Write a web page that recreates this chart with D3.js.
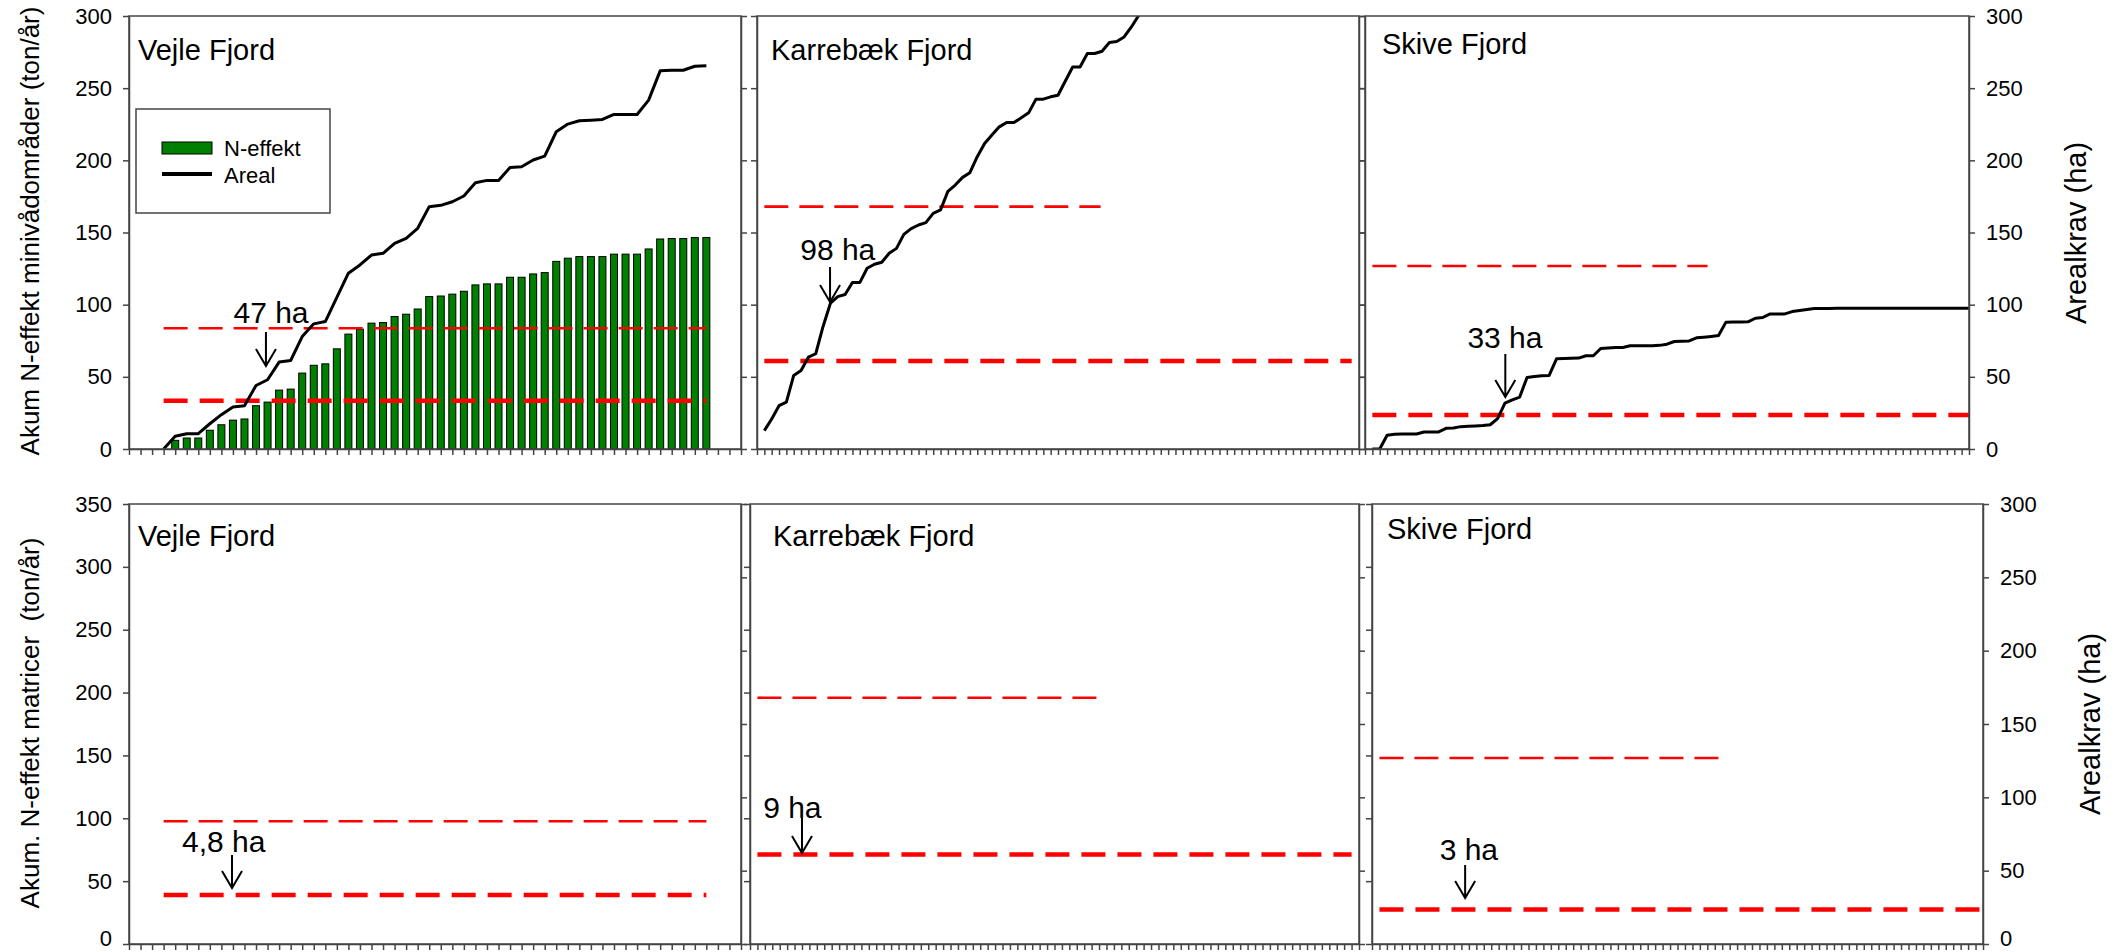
<!DOCTYPE html>
<html lang="da">
  <head>
    <meta charset="UTF-8" />
    <script src="https://d3js.org/d3.v7.min.js"></script>
    <title>Akum N-effekt og arealkrav</title>
    <style>
      body { margin: 0; background: #fff; }
      svg text { font-family: "Liberation Sans", Arial, sans-serif; fill: #000; }
      .axis path, .axis line { stroke: #444; stroke-width: 1.5; }
      .axis text { font-size: 22px; }
      .frame { fill: none; stroke: #444; stroke-width: 1.5; }
      .title { font-size: 29px; }
      .note { font-size: 30px; }
      .ytitle { font-size: 26px; white-space: pre; }
    </style>
  </head>
  <body>
    <script>
      const fjords = ['Vejle Fjord', 'Karrebæk Fjord', 'Skive Fjord']

      // akum. N-effekt (ton/år) for Vejle, first bar at x index 4
      const vejleNeffekt = [6, 7.6, 7.6, 13, 16.8, 20, 20.8, 30, 32.5, 40.8, 41.5, 52.6, 58, 59, 69.4, 79.6,
        83, 87.2, 87.6, 91.8, 93.4, 97, 105.6, 106, 107.3, 109.3, 113.7, 114.4, 114.4, 119, 119, 121.3,
        122.2, 130, 132.2, 133.3, 133.3, 133.3, 135, 135, 135, 138.6, 145.5, 145.8, 145.8, 146.5, 146.5]
      const vejleNStart = 4

      // akum. areal (ha)
      const vejleAreal = [0, 8.8, 10.6, 10.6, 17.5, 23.8, 29.1, 30, 44, 48, 60.2, 61.3, 77.9, 86.7, 88.3, 105,
        121.8, 127.5, 134.4, 135.6, 142.5, 146, 152.9, 167.9, 168.8, 171.3, 175.3, 184.5, 186.1, 186.1,
        195.1, 195.5, 200.2, 202.9, 219.8, 225.1, 227.4, 227.8, 228.3, 231.8, 231.8, 231.8, 241.7, 262,
        262.4, 262.4, 265.2, 265.6]
      const karrebaekAreal = [12.7, 20.8, 30, 32.5, 51, 54.4, 63.6, 66, 84.9, 101, 105.6, 107, 115.3, 115.3,
        125.2, 128, 129.4, 135.6, 139, 148.7, 152.7, 155.2, 156.8, 163.3, 165.6, 178.5, 182.9, 188.2, 191.4,
        202.5, 211.7, 217.5, 223.2, 226.2, 226.2, 229.5, 232.9, 242.4, 242.4, 244, 245.1, 255, 264.7, 264.7,
        274, 274, 275.6, 281.6, 282.3, 285.5, 292.4, 300.5]
      const skiveAreal = [0, 0, 9.5, 10.2, 10.4, 10.4, 10.4, 11.8, 11.8, 11.8,
        14.3, 14.5, 15.5, 15.8, 16, 16.3, 16.8, 21, 31.8, 34.1,
        36, 49.6, 50.2, 50.7, 51, 62.5, 62.7, 62.9, 63, 64.6,
        64.6, 69.6, 70, 70.3, 70.3, 71.5, 71.5, 71.5, 71.5, 71.8,
        72.6, 74.5, 74.7, 74.9, 77, 77.5, 78, 78.6, 87.9, 88,
        88, 88.1, 90.6, 91.1, 93.6, 93.6, 93.6, 95.2, 96, 96.6,
        97.3, 97.3, 97.4, 97.5, 97.5, 97.5, 97.5, 97.5, 97.5, 97.5,
        97.5, 97.5, 97.5, 97.5, 97.5, 97.5, 97.5, 97.5, 97.5, 97.5, 97.5, 97.5]
      const arealSeries = [vejleAreal, karrebaekAreal, skiveAreal]
      const arealStart = [3, 1, 1]
      const xMax = [53, 82, 82]

      // stiplede krav-linjer
      const refStart = [3, 1, 1]
      const refUpper = [83.7, 167.9, 126.8]
      const refUpperEnd = [50, 46.8, 46.5]
      const refLower = [33.4, 61, 23.5]
      const refLowerEnd = [50, 81, 82]

      const topLeftTicks = [0, 50, 100, 150, 200, 250, 300]
      const bottomLeftTicks = [0, 50, 100, 150, 200, 250, 300, 350]
      const rightTicks = [0, 50, 100, 150, 200, 250, 300]

      const noteTopLabel = ['47 ha', '98 ha', '33 ha']
      const noteTopArrowX = [11.86, 9.95, 19.05]
      const noteTopTip = [57.5, 101.8, 36]
      const noteTopTail = [81.1, 126.1, 65.8]
      const noteTopTextX = [12.3, 11, 19]
      const noteTopTextY = [87.3, 131, 70]

      const noteBotLabel = ['4,8 ha', '9 ha', '3 ha']
      const noteBotArrowX = [8.92, 7.0, 12.5]
      const noteBotTip = [38.2, 62, 31.4]
      const noteBotTail = [60.7, 85.9, 53.9]
      const noteBotTextX = [8.2, 5.7, 13]
      const noteBotTextY = [62.7, 85.9, 57.3]

      const svg = d3.select('body').append('svg')
        .attr('width', 2119)
        .attr('height', 952)

      const rows = [
        { top: 16, bottom: 449, leftMax: 300, leftTicks: topLeftTicks,
          xs: [[129, 741], [757, 1359], [1365, 1969]],
          titleX: [138, 771, 1382], titleY: [60, 60, 54],
          notes: [noteTopLabel, noteTopArrowX, noteTopTip, noteTopTail, noteTopTextX, noteTopTextY] },
        { top: 504, bottom: 944, leftMax: 350, leftTicks: bottomLeftTicks,
          xs: [[129, 741], [750, 1359], [1372, 1983]],
          titleX: [138, 773, 1387], titleY: [546, 546, 539],
          notes: [noteBotLabel, noteBotArrowX, noteBotTip, noteBotTail, noteBotTextX, noteBotTextY] }
      ]

      function dropEmptyLabels(sel) {
        sel.selectAll('text').filter(function () { return this.textContent === '' }).remove()
      }

      rows.forEach(function (row, r) {
        // keep the lowest "0" labels inside the picture
        function liftZero(sel) {
          if (r === 1) sel.selectAll('.tick text').filter(d => d === 0).attr('dy', '0.08em')
        }

        row.xs.forEach(function (xr, p) {
          const x = d3.scaleLinear().domain([0, xMax[p]]).range(xr)
          const yL = d3.scaleLinear().domain([0, row.leftMax]).range([row.bottom, row.top])
          const yR = d3.scaleLinear().domain([0, 300]).range([row.bottom, row.top])
          const g = svg.append('g')
          const clipId = 'clip' + r + p

          svg.append('clipPath').attr('id', clipId)
            .append('rect')
            .attr('x', xr[0]).attr('y', row.top)
            .attr('width', xr[1] - xr[0]).attr('height', row.bottom - row.top)

          // bars only in the top Vejle panel
          if (r === 0 && p === 0) {
            g.append('g').selectAll('rect')
              .data(vejleNeffekt)
              .join('rect')
              .attr('x', (d, i) => x(i + vejleNStart) - 3.5)
              .attr('width', 7)
              .attr('y', d => yL(d))
              .attr('height', d => yL(0) - yL(d))
              .attr('fill', '#008000')
              .attr('stroke', '#000')
              .attr('stroke-width', 1)
          }

          g.append('line')
            .attr('x1', x(refStart[p])).attr('x2', x(refUpperEnd[p]))
            .attr('y1', yR(refUpper[p])).attr('y2', yR(refUpper[p]))
            .attr('stroke', '#ff0000').attr('stroke-width', 2.6)
            .attr('stroke-dasharray', '24 11')
          g.append('line')
            .attr('x1', x(refStart[p])).attr('x2', x(refLowerEnd[p]))
            .attr('y1', yR(refLower[p])).attr('y2', yR(refLower[p]))
            .attr('stroke', '#ff0000').attr('stroke-width', 4.5)
            .attr('stroke-dasharray', '24 12')

          if (r === 0) {
            const line = d3.line()
              .x((d, i) => x(i + arealStart[p]))
              .y(d => yR(d))
            g.append('path')
              .datum(arealSeries[p])
              .attr('d', line)
              .attr('clip-path', 'url(#' + clipId + ')')
              .attr('fill', 'none')
              .attr('stroke', '#000')
              .attr('stroke-width', 3)
              .attr('stroke-linejoin', 'round')
          }

          // annotation with arrow
          const n = row.notes
          const ax = x(n[1][p])
          const tip = yR(n[2][p])
          g.append('text')
            .attr('class', 'note')
            .attr('x', x(n[4][p]))
            .attr('y', yR(n[5][p]))
            .attr('text-anchor', 'middle')
            .text(n[0][p])
          g.append('path')
            .attr('d', 'M' + ax + ',' + yR(n[3][p]) + 'V' + tip +
              'M' + (ax - 10) + ',' + (tip - 17) + 'L' + ax + ',' + tip + 'L' + (ax + 10) + ',' + (tip - 17))
            .attr('fill', 'none')
            .attr('stroke', '#000')
            .attr('stroke-width', 2)

          g.append('rect')
            .attr('class', 'frame')
            .attr('x', xr[0]).attr('y', row.top)
            .attr('width', xr[1] - xr[0]).attr('height', row.bottom - row.top)

          g.append('g')
            .attr('class', 'axis')
            .attr('transform', 'translate(' + xr[0] + ',0)')
            .call(d3.axisLeft(yL).tickValues(row.leftTicks).tickSize(6).tickSizeOuter(0)
              .tickPadding(11).tickFormat(p === 0 ? d3.format('d') : ''))
            .call(dropEmptyLabels)
            .call(liftZero)

          g.append('g')
            .attr('class', 'axis')
            .attr('transform', 'translate(' + xr[1] + ',0)')
            .call(d3.axisRight(yR).tickValues(rightTicks).tickSize(6).tickSizeOuter(0)
              .tickPadding(11).tickFormat(p === 2 ? d3.format('d') : ''))
            .call(dropEmptyLabels)
            .call(liftZero)

          g.append('g')
            .attr('class', 'axis')
            .attr('transform', 'translate(0,' + row.bottom + ')')
            .call(d3.axisBottom(x).tickValues(d3.range(0, xMax[p] + 1)).tickSize(6).tickSizeOuter(0)
              .tickFormat(''))
            .call(dropEmptyLabels)

          g.append('text')
            .attr('class', 'title')
            .attr('x', row.titleX[p])
            .attr('y', row.titleY[p])
            .text(fjords[p])
        })
      })

      // legend
      const legend = svg.append('g')
      legend.append('rect')
        .attr('x', 136).attr('y', 109).attr('width', 194).attr('height', 104)
        .attr('fill', '#fff').attr('stroke', '#444').attr('stroke-width', 1.5)
      legend.append('rect')
        .attr('x', 162).attr('y', 142).attr('width', 50).attr('height', 12)
        .attr('fill', '#008000').attr('stroke', '#000').attr('stroke-width', 1)
      legend.append('line')
        .attr('x1', 162).attr('x2', 212).attr('y1', 174).attr('y2', 174)
        .attr('stroke', '#000').attr('stroke-width', 4)
      legend.append('text').attr('x', 224).attr('y', 148).attr('dy', '0.35em')
        .style('font-size', '22px').text('N-effekt')
      legend.append('text').attr('x', 224).attr('y', 175).attr('dy', '0.35em')
        .style('font-size', '22px').text('Areal')

      // axis titles
      svg.append('text').attr('class', 'ytitle')
        .attr('transform', 'translate(39,231) rotate(-90)')
        .attr('text-anchor', 'middle')
        .text('Akum N-effekt minivådområder (ton/år)')
      svg.append('text').attr('class', 'ytitle')
        .attr('transform', 'translate(39,723) rotate(-90)')
        .attr('text-anchor', 'middle')
        .text('Akum. N-effekt matricer  (ton/år)')
      svg.append('text')
        .attr('transform', 'translate(2086,233) rotate(-90)')
        .attr('text-anchor', 'middle')
        .style('font-size', '29px')
        .text('Arealkrav (ha)')
      svg.append('text')
        .attr('transform', 'translate(2100,724) rotate(-90)')
        .attr('text-anchor', 'middle')
        .style('font-size', '29px')
        .text('Arealkrav (ha)')
    </script>
  </body>
</html>
